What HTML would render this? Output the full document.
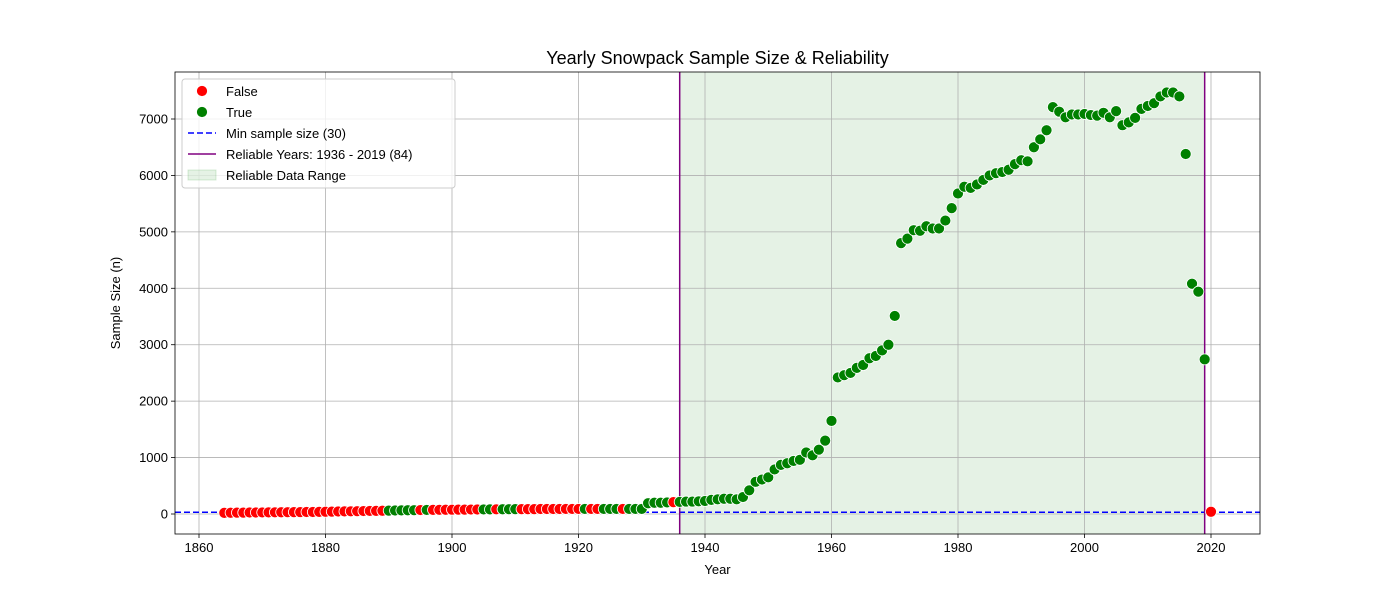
<!DOCTYPE html>
<html><head><meta charset="utf-8">
<style>
html,body{margin:0;padding:0;background:#fff;}
svg{display:block;font-family:"Liberation Sans","DejaVu Sans",sans-serif;}
</style></head>
<body>
<svg id="chart" width="1400" height="600" xmlns="http://www.w3.org/2000/svg"></svg>
<script>
const years = [];
for (let y = 1864; y <= 2020; y++) years.push(y);
const earlyValues = [20,22,24,25,26,27,28,29,30,31,32,33,34,35,36,38,40,42,44,46,48,50,52,54,56,58,60,62,64,66,68,70,72,73,74,75,76,77,78,79,80,81,82,83,84,85,86,86,87,87,88,88,89,89,90,90,90,90,90,90,90,90,90,90,90,90,90];
const lateValues = [190,200,200,205,210,215,220,220,225,230,250,260,270,270,260,300,420,570,610,650,790,870,900,940,960,1090,1040,1140,1300,1650,2420,2460,2500,2590,2640,2760,2800,2900,3000,3510,4800,4880,5030,5020,5100,5060,5060,5200,5420,5680,5800,5780,5840,5920,6000,6040,6060,6100,6200,6270,6250,6500,6640,6800,7210,7130,7030,7080,7080,7090,7070,7060,7110,7030,7140,6890,6940,7020,7180,7230,7280,7400,7470,7470,7400,6380,4080,3940,2740,40];
const values = earlyValues.concat(lateValues);
// years flagged as NOT reliable (False); all others True
const falseYears = [1864,1865,1866,1867,1868,1869,1870,1871,1872,1873,1874,1875,1876,1877,1878,1879,1880,1881,1882,1883,1884,1885,1886,1887,1888,1889,1895,1897,1898,1899,1900,1901,1902,1903,1904,1907,1911,1912,1913,1914,1915,1916,1917,1918,1919,1920,1922,1923,1927,1935,2020];
const xTicks = [1860,1880,1900,1920,1940,1960,1980,2000,2020];
const yTicks = [0,1000,2000,3000,4000,5000,6000,7000];
const minSample = [30];
const reliableRange = [1936, 2019];

const NS = "http://www.w3.org/2000/svg";
const svg = document.getElementById('chart');
const L=175,R=1260,T=72,B=534;
const xs = v => 199 + (v-1860)*(1211-199)/160;
const ys = v => 514 - v*(514-119)/7000;
function mk(tag, attrs, parent){const e=document.createElementNS(NS,tag);for(const k in attrs)e.setAttribute(k,attrs[k]);(parent||svg).appendChild(e);return e;}

const span = mk('rect',{x:xs(reliableRange[0]),y:T,width:xs(reliableRange[1])-xs(reliableRange[0]),height:B-T,fill:'#008000','fill-opacity':0.1});



xTicks.forEach(t=>{
  const g=mk('line',{x1:xs(t),x2:xs(t),y1:T,y2:B,stroke:'#b0b0b0','stroke-width':0.8});
  
  
  mk('line',{x1:xs(t),x2:xs(t),y1:B,y2:B+4,stroke:'#000','stroke-width':0.8});
  const tx=mk('text',{x:xs(t),y:B+18,'text-anchor':'middle','font-size':13});
  tx.textContent=t;
  
  
});
yTicks.forEach(t=>{
  const g=mk('line',{x1:L,x2:R,y1:ys(t),y2:ys(t),stroke:'#b0b0b0','stroke-width':0.8});
  
  
  mk('line',{x1:L-4,x2:L,y1:ys(t),y2:ys(t),stroke:'#000','stroke-width':0.8});
  const tx=mk('text',{x:L-7,y:ys(t)+4.5,'text-anchor':'end','font-size':13});
  tx.textContent=t;
  
  
});

const ml=mk('line',{x1:L,x2:R,y1:ys(minSample[0]),y2:ys(minSample[0]),stroke:'#0000ff','stroke-width':1.5,'stroke-dasharray':'6,3'});



reliableRange.forEach(yv=>{
  const l=mk('line',{x1:xs(yv),x2:xs(yv),y1:T,y2:B,stroke:'#800080','stroke-width':1.5});
  
  
});

years.forEach((yr,i)=>{
  const ok = falseYears.indexOf(yr) < 0;
  const c=mk('circle',{cx:xs(yr),cy:ys(values[i]),r:5.5,fill:ok?'#008000':'#ff0000',stroke:'#fff','stroke-width':0.8});
  
  
});

const fr=mk('rect',{x:L,y:T,width:R-L,height:B-T,fill:'none',stroke:'#000','stroke-width':0.8});



let t=mk('text',{x:717.5,y:64,'text-anchor':'middle','font-size':18});
t.textContent='Yearly Snowpack Sample Size & Reliability';


t=mk('text',{x:717.5,y:574,'text-anchor':'middle','font-size':13});
t.textContent='Year';


t=mk('text',{x:120,y:303,'text-anchor':'middle','font-size':13,transform:'rotate(-90 120 303)'});
t.textContent='Sample Size (n)';



const lg=mk('g',{});


mk('rect',{x:182,y:79,width:273,height:109,rx:3,fill:'#fff','fill-opacity':0.8,stroke:'#ccc'},lg);
const entries=[
 {label:'False',type:'dot',color:'#ff0000'},
 {label:'True',type:'dot',color:'#008000'},
 {label:'Min sample size (30)',type:'dash',color:'#0000ff'},
 {label:'Reliable Years: 1936 - 2019 (84)',type:'line',color:'#800080'},
 {label:'Reliable Data Range',type:'patch',color:'#008000'}];
entries.forEach((e,i)=>{
  const y=91+i*21;
  const g=mk('g',{},lg);
  
  
  if(e.type==='dot') mk('circle',{cx:202,cy:y,r:5.5,fill:e.color,stroke:'#fff','stroke-width':0.8},g);
  else if(e.type==='dash') mk('line',{x1:188,x2:216,y1:y,y2:y,stroke:e.color,'stroke-width':1.5,'stroke-dasharray':'6,3'},g);
  else if(e.type==='line') mk('line',{x1:188,x2:216,y1:y,y2:y,stroke:e.color,'stroke-width':1.5},g);
  else mk('rect',{x:188,y:y-5,width:28,height:10,fill:e.color,'fill-opacity':0.1,stroke:e.color,'stroke-opacity':0.15},g);
  const tx=mk('text',{x:226,y:y+5,'font-size':13},g);
  tx.textContent=e.label;
});
</script>
</body></html>
